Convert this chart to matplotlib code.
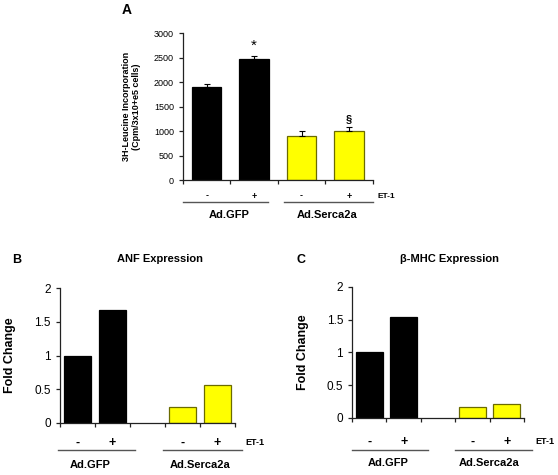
import numpy as np
import matplotlib.pyplot as plt

plt.rcParams['font.family'] = ['Liberation Sans', 'DejaVu Sans']

# panel A: 3H-leucine incorporation
a_labels = ['-', '+', '-', '+']
a_values = [1900, 2480, 890, 1010]
a_errors = [70, 65, 110, 75]
a_colors = ['black', 'black', '#ffff00', '#ffff00']
a_marks = ['', '*', '', '§']

# panels B and C: fold change (empty slot between groups)
bc_labels = ['-', '+', '-', '+']
anf_values = [1.0, 1.67, 0.24, 0.56]
mhc_values = [1.0, 1.54, 0.17, 0.21]
bc_colors = ['black', 'black', '#ffff00', '#ffff00']

groups = ['Ad.GFP', 'Ad.Serca2a']

EDGE_Y = '#6b6b00'


def edgecolors(colors):
    return ['black' if c == 'black' else EDGE_Y for c in colors]


def style_axis(ax, lw=0.9):
    for s in ['top', 'right']:
        ax.spines[s].set_visible(False)
    for s in ['left', 'bottom']:
        ax.spines[s].set_linewidth(lw)
        ax.spines[s].set_color('#222222')
    ax.tick_params(direction='out', length=3, width=lw, color='#222222')


def group_annot(ax, xs, labels, y_sign, y_line, y_grp, lines, grp_x, et_x,
                sign_fs, grp_fs, et_fs):
    tr = ax.get_xaxis_transform()
    for x, lab in zip(xs, labels):
        ax.text(x, y_sign, lab, transform=tr, ha='center', va='center',
                fontsize=sign_fs, fontweight='bold')
    for x0, x1 in lines:
        ax.plot([x0, x1], [y_line, y_line], transform=tr, color='#555555',
                lw=1.0, clip_on=False)
    for x, g in zip(grp_x, groups):
        ax.text(x, y_grp, g, transform=tr, ha='center', va='center',
                fontsize=grp_fs, fontweight='bold')
    ax.text(et_x, y_sign, 'ET-1', transform=tr, ha='left', va='center',
            fontsize=et_fs, fontweight='bold')


fig = plt.figure(figsize=(5.58, 4.75), dpi=100)

# ---- panel A ----
axA = fig.add_axes([0.328, 0.621, 0.340, 0.309])
xa = np.arange(len(a_values))
axA.bar(xa, a_values, width=0.62, color=a_colors,
        edgecolor=edgecolors(a_colors), linewidth=0.9)
axA.errorbar(xa, a_values, yerr=[np.zeros(len(a_errors)), a_errors], fmt='none',
             ecolor='black', elinewidth=0.8, capsize=2, capthick=0.8)
for x, v, e, m in zip(xa, a_values, a_errors, a_marks):
    if m:
        axA.text(x, v + e + 60, m, ha='center', va='bottom',
                 fontsize=11 if m == '*' else 8,
                 fontweight='normal' if m == '*' else 'bold')
axA.set_xlim(-0.5, 3.5)
axA.set_ylim(0, 3000)
axA.set_yticks(np.arange(0, 3001, 500))
axA.set_xticks(np.arange(-0.5, 3.6, 1))
axA.set_xticklabels([])
axA.tick_params(axis='y', labelsize=6.5)
style_axis(axA)
axA.set_ylabel('3H-Leucine Incorporation\n(Cpm/3x10+e5 cells)', fontsize=6.5,
               fontweight='bold', labelpad=9)
group_annot(axA, xa, a_labels, -0.109, -0.15, -0.238,
            [(-0.5, 1.29), (1.63, 3.5)], [0.47, 2.53], 3.6, 6.5, 8, 6)
fig.text(127 / 558, 1 - 10 / 475, 'A', ha='center', va='center',
         fontsize=10, fontweight='bold')


def fold_panel(rect, values, title, title_x, letter, letter_x,
               y_sign, y_line, y_grp, lines, grp_x, et_x):
    ax = fig.add_axes(rect)
    xs = np.array([0, 1, 3, 4])
    ax.bar(xs, values, width=0.78, color=bc_colors,
           edgecolor=edgecolors(bc_colors), linewidth=0.9)
    ax.set_xlim(-0.5, 4.5)
    ax.set_ylim(0, 2)
    ax.set_yticks([0, 0.5, 1, 1.5, 2])
    ax.set_yticklabels(['0', '0.5', '1', '1.5', '2'])
    ax.set_xticks(np.arange(-0.5, 4.6, 1))
    ax.set_xticklabels([])
    ax.tick_params(axis='y', labelsize=8.5)
    style_axis(ax)
    ax.set_ylabel('Fold Change', fontsize=9, fontweight='bold', labelpad=13)
    group_annot(ax, xs, bc_labels, y_sign, y_line, y_grp, lines, grp_x, et_x,
                9, 8, 6.5)
    fig.text(title_x / 558, 1 - 259 / 475, title, ha='center', va='center',
             fontsize=8, fontweight='bold')
    fig.text(letter_x / 558, 1 - 260 / 475, letter, ha='center', va='center',
             fontsize=9, fontweight='bold')
    return ax


fold_panel([0.1075, 0.1095, 0.3136, 0.284], anf_values, 'ANF Expression', 160,
           'B', 17, -0.148, -0.2, -0.311, [(-0.56, 1.64), (2.44, 4.7)],
           [0.36, 3.49], 4.79)
fold_panel([0.631, 0.12, 0.308, 0.276], mhc_values, 'β-MHC Expression', 449,
           'C', 301, -0.183, -0.244, -0.343, [(-0.5, 1.71), (2.5, 4.73)],
           [0.56, 3.48], 4.82)

fig.savefig('out.png', dpi=100)
